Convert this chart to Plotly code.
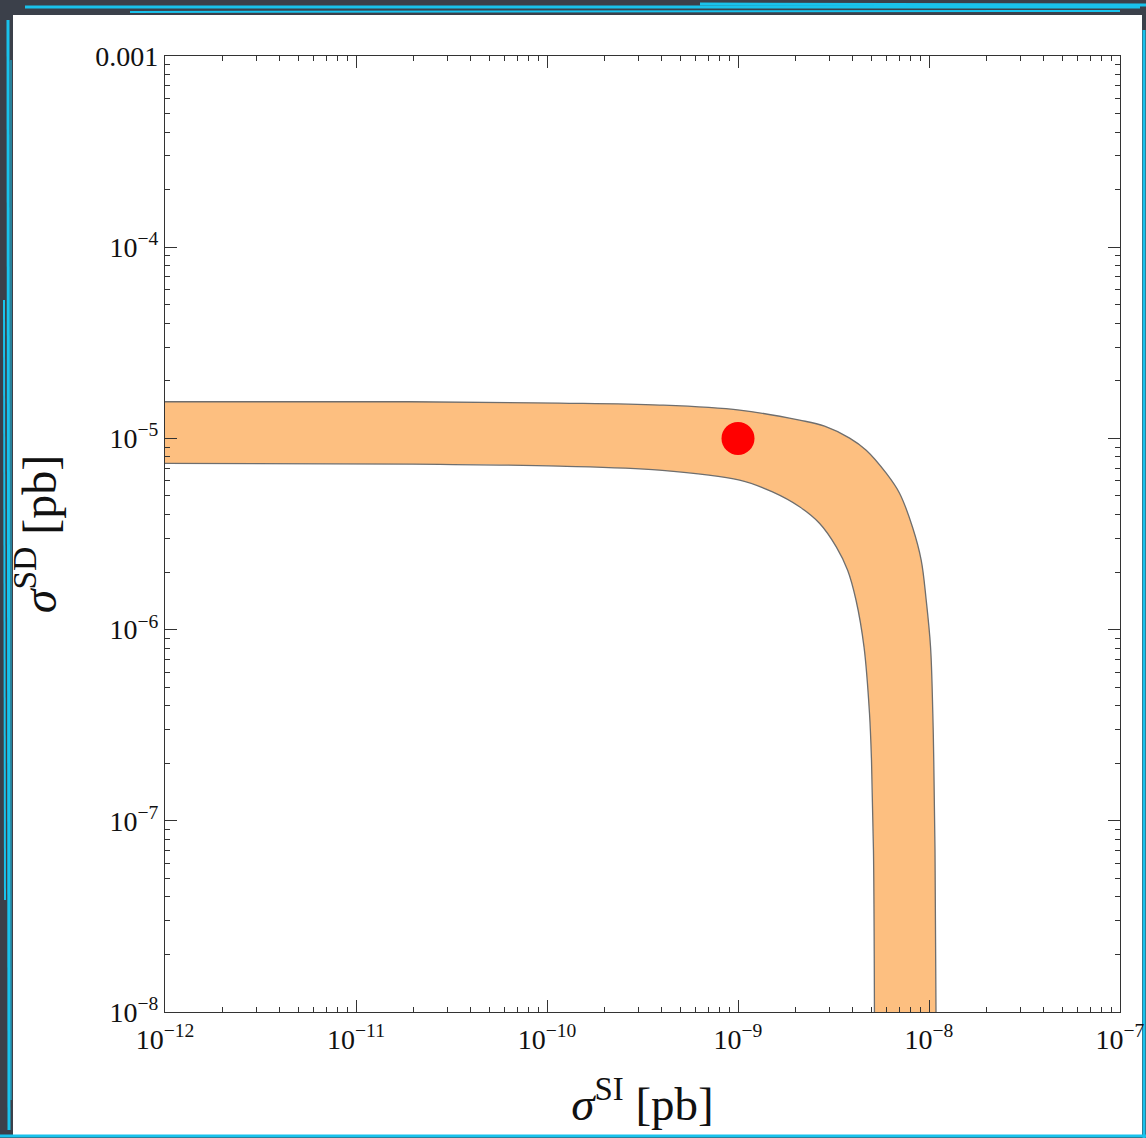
import plotly.graph_objects as go

# Boundary curves of the allowed band (sigma_SI, sigma_SD) in pb
si_upper = [1e-12, 1.91e-11, 1.16e-10, 3.88e-10, 1.02e-9, 2.10e-9, 2.84e-9, 3.84e-9,
            4.69e-9, 5.97e-9, 7.01e-9, 8.20e-9, 9.10e-9, 9.67e-9, 1.019e-8,
            1.047e-8, 1.059e-8, 1.075e-8, 1.088e-8]
sd_upper = [1.555e-5, 1.555e-5, 1.53e-5, 1.494e-5, 1.406e-5, 1.246e-5, 1.160e-5, 1.004e-5,
            8.68e-6, 6.58e-6, 5.17e-6, 3.43e-6, 2.31e-6, 1.424e-6, 8.09e-7,
            3.65e-7, 2.07e-7, 7.0e-8, 1e-8]

si_lower = [1e-12, 1.91e-11, 1.16e-10, 3.88e-10, 1.02e-9, 1.516e-9, 2.10e-9, 2.67e-9,
            3.27e-9, 3.75e-9, 4.15e-9, 4.57e-9, 4.88e-9, 5.00e-9, 5.12e-9, 5.18e-9]
sd_lower = [7.40e-6, 7.34e-6, 7.16e-6, 6.82e-6, 6.05e-6, 5.25e-6, 4.39e-6, 3.60e-6,
            2.71e-6, 2.045e-6, 1.424e-6, 8.09e-7, 3.65e-7, 2.07e-7, 7.0e-8, 1e-8]

# Benchmark point
point_si = [1e-9]
point_sd = [1e-5]

# Axis ticks
x_ticks = [1e-12, 1e-11, 1e-10, 1e-9, 1e-8, 1e-7]
x_labels = ["10<sup>−12</sup>", "10<sup>−11</sup>", "10<sup>−10</sup>",
            "10<sup>−9</sup>", "10<sup>−8</sup>", "10<sup>−7</sup>"]
y_ticks = [1e-8, 1e-7, 1e-6, 1e-5, 1e-4, 1e-3]
y_labels = ["10<sup>−8</sup>", "10<sup>−7</sup>", "10<sup>−6</sup>",
            "10<sup>−5</sup>", "10<sup>−4</sup>", "0.001"]

x_minor = [m * 10.0 ** e for e in range(-12, -7) for m in range(2, 10)]
y_minor = [m * 10.0 ** e for e in range(-8, -3) for m in range(2, 10)]

W, H = 1146, 1138
L, R, T, B = 165, 26, 56, 126
pw, ph = W - L - R, H - T - B


def px(x):
    return (x - L) / pw


def py(y):
    return (H - B - y) / ph


BAND = "#FDBF80"
EDGE = "#6E6E6E"
FONT = "Liberation Serif"
INK = "#111111"

fig = go.Figure()
fig.add_trace(go.Scatter(x=si_lower, y=sd_lower, mode="lines",
                         line=dict(color=EDGE, width=1.3, shape="spline", smoothing=1.0),
                         hoverinfo="skip", showlegend=False))
fig.add_trace(go.Scatter(x=si_upper, y=sd_upper, mode="lines", fill="tonexty",
                         fillcolor=BAND,
                         line=dict(color=EDGE, width=1.3, shape="spline", smoothing=1.0),
                         hoverinfo="skip", showlegend=False))
fig.add_trace(go.Scatter(x=point_si, y=point_sd, mode="markers",
                         marker=dict(color="#FF0000", size=33, line=dict(width=0)),
                         showlegend=False))

axis_common = dict(
    type="log", showgrid=False, zeroline=False, automargin=False,
    showline=True, linecolor="#333333", linewidth=1.2, mirror="allticks",
    ticks="inside", ticklen=12, tickwidth=1, tickcolor="#333333",
    tickfont=dict(family=FONT, size=28, color=INK),
    tickmode="array",
)

fig.update_xaxes(**axis_common, range=[-12, -7], tickvals=x_ticks, ticktext=x_labels,
                 ticklabelstandoff=2,
                 minor=dict(tickmode="array", tickvals=x_minor, ticks="inside",
                            ticklen=5, tickcolor="#333333", showgrid=False),
                 title=dict(text="<i>σ</i><sup>SI</sup> [pb]",
                            font=dict(family=FONT, size=47, color=INK),
                            standoff=33))
fig.update_yaxes(**axis_common, range=[-8, -3], tickvals=y_ticks, ticktext=y_labels,
                 minor=dict(tickmode="array", tickvals=y_minor, ticks="inside",
                            ticklen=5, tickcolor="#333333", showgrid=False),
                 title=dict(text="<i>σ</i><sup>SD</sup> [pb]",
                            font=dict(family=FONT, size=48, color=INK),
                            standoff=23))

shapes = [
    # white sheet behind the figure
    dict(type="rect", xref="paper", yref="paper", layer="below",
         x0=px(13), x1=px(1142), y0=py(1135), y1=py(15),
         fillcolor="white", line=dict(width=0)),
]
CYAN = "#19C2EC"
strokes = [
    (25, 7, 1140, 7, 3), (130, 12, 1120, 11, 2), (700, 4, 1146, 5, 3),
    (8, 20, 9, 1130, 3), (4, 300, 5, 900, 2), (11, 60, 11, 1100, 1),
    (0, 1136, 1146, 1136, 3),
    (1144, 30, 1144, 1138, 3),
]
for x0, y0, x1, y1, w in strokes:
    shapes.append(dict(type="line", xref="paper", yref="paper", layer="below",
                       x0=px(x0), y0=py(y0), x1=px(x1), y1=py(y1),
                       line=dict(color=CYAN, width=w)))

fig.update_layout(
    width=W, height=H, autosize=False,
    margin=dict(l=L, r=R, t=T, b=B, autoexpand=False),
    paper_bgcolor="#3B404A", plot_bgcolor="rgba(0,0,0,0)",
    shapes=shapes, showlegend=False,
    font=dict(family=FONT),
)

fig.write_html("out.html")
